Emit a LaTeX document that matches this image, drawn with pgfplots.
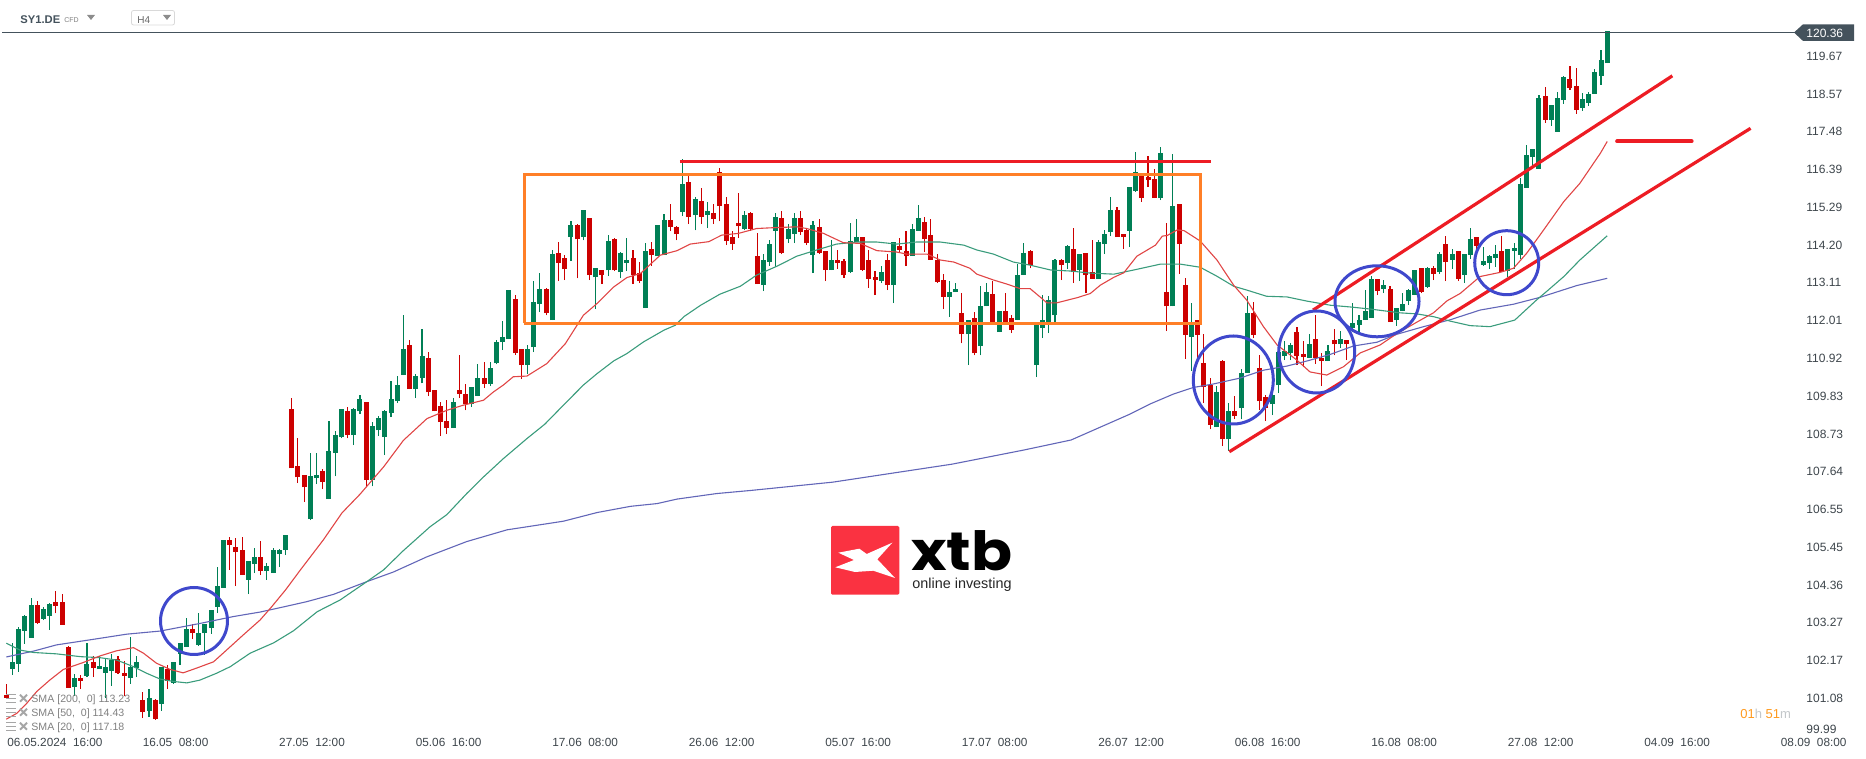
\documentclass[border=0pt]{standalone}
\usepackage{pgfplots}
\usepackage{pgfplotstable}
\pgfplotsset{compat=1.18}
\usepackage{fontspec}
\setmainfont{Liberation Sans}
\newfontfamily\logofont{Poppins}
\definecolor{upc}{HTML}{007F55}
\definecolor{dnc}{HTML}{CC0000}
\definecolor{smar}{HTML}{E04545}
\definecolor{smag}{HTML}{3A9C7C}
\definecolor{smab}{HTML}{6266B8}
\definecolor{annr}{HTML}{ED1C24}
\definecolor{anno}{HTML}{FF7F27}
\definecolor{annb}{HTML}{3F48CC}
\definecolor{txt}{HTML}{3D454B}
\definecolor{dark}{HTML}{44525C}
% candle tables: index, low, body bottom, body top, high
\pgfplotstableread{
x low bot top high
1 101.76 101.93 102.13 102.68
2 101.85 102.08 103.09 103.14
3 102.66 103.04 103.47 103.50
4 102.84 102.84 103.79 103.98
6 103.35 103.38 103.67 103.74
7 103.07 103.47 103.81 103.85
11 101.15 101.41 101.67 101.78
13 101.70 101.73 102.08 102.69
15 101.93 101.93 102.02 102.31
16 101.09 101.82 101.99 102.22
17 101.44 101.87 102.19 102.37
20 101.50 101.67 101.99 102.86
21 101.70 101.96 102.13 102.31
23 100.54 100.72 101.09 101.35
25 100.72 100.92 101.99 101.99
27 101.50 101.53 102.13 102.13
28 102.05 102.37 102.69 102.69
29 102.57 102.57 103.09 103.41
31 102.60 102.63 102.97 103.55
32 102.34 102.97 103.23 103.23
33 102.95 103.12 103.64 103.64
34 103.55 103.73 104.33 104.89
35 104.28 104.28 105.67 105.67
39 104.10 104.51 105.06 105.06
40 104.71 104.97 105.17 105.44
42 104.51 104.77 104.91 105.00
43 104.71 104.71 105.38 105.44
44 104.89 105.26 105.38 105.41
45 105.23 105.38 105.81 105.81
49 106.24 106.27 107.51 108.18
50 107.28 107.45 107.54 108.18
52 106.85 106.85 108.24 109.10
53 107.51 108.18 108.70 108.82
54 108.61 108.64 109.45 109.45
56 108.41 108.70 109.45 109.48
57 109.31 109.39 109.74 109.86
59 107.22 107.40 108.96 109.08
60 108.67 108.84 109.19 109.25
61 108.12 108.64 109.39 109.42
62 109.22 109.34 109.74 110.26
63 109.63 109.68 110.15 110.41
64 110.44 110.44 111.19 112.17
66 109.77 110.03 110.41 110.47
67 110.20 110.35 110.99 111.77
72 108.90 108.90 109.65 109.77
75 109.51 109.60 110.09 110.09
76 109.83 109.83 110.35 110.75
78 110.12 110.18 110.64 110.81
79 110.75 110.78 111.39 111.45
80 111.16 111.39 111.54 112.00
81 111.48 111.48 112.90 112.90
84 110.47 110.73 111.19 111.30
85 111.10 111.25 112.55 113.16
86 112.26 112.49 112.93 113.39
88 112.03 112.03 113.94 114.06
91 113.74 114.43 114.78 114.89
93 114.34 114.43 115.21 115.21
95 112.35 113.27 113.53 113.53
97 113.30 113.47 114.32 114.49
99 113.24 113.42 113.97 114.00
100 113.45 113.68 113.77 114.40
103 112.38 112.38 114.03 114.26
105 113.88 113.88 114.78 114.78
106 113.91 113.91 114.92 115.10
109 115.04 115.16 115.97 116.69
111 114.63 115.07 115.53 115.59
113 114.69 115.07 115.18 115.44
119 114.63 114.66 115.07 115.18
122 112.87 113.04 113.77 113.94
123 113.59 113.71 114.23 114.35
124 113.56 114.61 115.01 115.13
126 114.26 114.37 114.66 114.81
127 114.26 114.52 114.98 115.13
130 113.39 113.91 114.78 114.90
133 113.48 113.48 113.77 114.35
136 113.39 113.42 114.32 114.84
137 114.29 114.29 114.43 114.95
141 113.10 113.16 113.42 113.59
143 112.52 113.04 114.29 114.29
146 113.88 113.88 114.66 114.81
147 114.61 114.61 114.98 115.36
152 112.12 112.70 112.84 113.16
153 112.84 112.84 112.93 113.10
155 110.73 111.62 112.03 112.03
157 111.01 111.28 112.43 113.01
158 112.43 112.43 112.84 113.10
160 111.68 111.68 112.29 112.29
163 112.03 112.03 113.33 113.65
164 113.33 113.33 113.97 114.26
166 110.38 110.73 111.89 111.93
167 111.51 111.80 112.03 112.75
168 111.65 111.97 112.61 112.72
169 111.97 112.17 113.77 113.79
171 113.51 113.68 114.17 114.20
173 113.16 113.48 113.94 113.94
176 113.22 113.22 114.29 114.35
177 113.94 114.23 114.52 114.63
178 114.46 114.58 115.21 115.59
181 114.14 114.61 115.88 115.88
182 115.74 115.76 116.31 116.89
186 115.50 115.56 116.86 117.04
188 112.43 112.43 115.33 116.84
191 110.55 111.54 111.93 112.52
195 108.93 108.93 109.94 110.12
197 108.24 108.58 109.40 109.63
199 109.16 109.48 110.50 110.61
200 110.50 110.50 112.23 112.72
204 109.28 109.60 109.86 110.00
205 109.92 110.15 111.10 111.10
206 110.87 110.99 111.13 111.42
207 110.87 111.07 111.30 111.36
210 110.93 110.93 111.33 111.62
213 110.84 110.84 111.13 111.31
215 111.22 111.33 111.48 111.71
217 111.68 111.80 111.94 112.52
218 111.68 111.89 112.03 112.17
219 112.03 112.03 112.29 112.90
220 112.09 112.09 113.22 113.30
222 112.81 112.93 113.04 113.19
224 111.86 112.03 112.38 112.38
225 112.29 112.29 112.49 112.81
226 112.46 112.58 112.90 112.93
227 112.75 112.75 113.48 113.48
229 112.96 112.99 113.54 113.57
231 113.36 113.42 113.94 113.99
233 113.51 113.77 113.94 114.09
235 113.11 113.34 113.95 113.95
236 113.80 113.92 114.38 114.70
238 113.60 113.63 113.74 114.15
239 113.51 113.69 113.89 113.92
240 113.57 113.83 113.95 114.21
242 113.28 113.45 114.09 114.09
243 113.51 114.03 114.12 114.26
244 113.80 113.92 115.97 116.14
245 115.86 115.86 116.81 117.10
246 116.49 116.75 116.98 116.98
247 116.41 116.41 118.46 118.55
249 117.65 117.82 118.26 118.26
250 117.48 117.48 118.46 118.64
251 118.29 118.40 119.07 119.10
254 118.09 118.17 118.43 118.61
255 118.23 118.32 118.58 118.64
256 118.58 118.58 119.21 119.30
257 118.84 119.10 119.56 119.85
258 119.47 119.47 120.40 120.40
}\upcandles
\pgfplotstableread{
x low bot top high
0 101.10 101.10 101.18 101.50
5 103.24 103.26 103.79 103.90
8 103.54 103.76 103.87 104.19
9 103.21 103.21 103.87 104.10
10 101.39 101.39 102.57 102.60
12 101.36 101.59 101.67 101.76
14 101.70 101.96 102.13 102.31
18 101.79 101.82 102.22 102.31
19 101.15 101.73 101.82 102.16
22 100.51 100.69 101.03 101.26
24 100.46 100.48 101.03 101.06
26 101.35 101.59 101.93 102.05
30 102.80 102.97 103.09 103.23
36 104.80 105.52 105.67 105.75
37 104.33 105.32 105.46 105.72
38 104.65 104.65 105.38 105.75
41 104.65 104.77 105.17 105.64
46 107.74 107.74 109.45 109.77
47 107.31 107.48 107.80 108.61
48 106.76 107.19 107.54 107.54
51 107.14 107.34 107.66 107.71
55 108.61 108.70 109.39 109.51
58 107.22 107.40 109.65 109.65
65 110.03 110.03 111.30 111.45
68 109.83 109.94 110.93 111.10
69 109.39 109.39 110.00 110.00
70 108.67 109.08 109.54 109.65
71 108.73 108.90 109.10 109.71
73 109.77 109.89 110.00 111.02
74 109.42 109.60 109.89 110.18
77 110.06 110.18 110.35 110.81
82 111.02 111.07 112.64 112.75
83 110.32 110.73 111.19 111.19
87 112.17 112.23 112.93 112.96
89 113.16 113.68 113.97 114.29
90 113.19 113.50 113.82 113.91
92 113.24 114.37 114.78 114.81
94 113.19 113.33 114.98 114.98
96 113.07 113.33 113.47 113.47
98 113.45 113.47 114.37 114.40
101 113.07 113.33 113.82 114.06
102 113.10 113.16 113.39 113.71
104 113.59 113.91 114.08 114.29
107 114.60 114.72 114.92 115.39
108 114.34 114.52 114.72 114.75
110 114.81 115.01 116.02 116.23
112 114.81 115.01 115.47 115.85
114 114.81 114.95 115.13 115.39
115 114.89 115.33 116.31 116.43
116 114.20 114.32 115.39 115.59
117 114.06 114.23 114.43 114.60
118 114.40 114.75 114.84 115.71
120 114.61 114.66 115.13 115.16
121 113.07 113.07 113.88 114.55
125 113.94 113.97 114.98 115.19
128 114.49 114.58 114.98 115.19
129 114.20 114.26 114.63 114.69
131 113.94 113.97 114.72 114.95
132 113.16 113.48 114.03 114.03
134 113.51 113.68 113.77 114.06
135 113.25 113.33 113.74 113.79
138 113.45 113.48 114.43 114.43
139 112.96 113.22 113.77 114.06
140 112.75 113.19 113.27 113.45
142 112.90 113.04 113.77 113.94
144 114.00 114.06 114.17 114.40
145 113.59 113.88 114.03 114.61
148 114.00 114.37 114.87 115.00
149 113.77 113.77 114.49 114.95
150 113.10 113.13 113.77 113.94
151 112.35 112.70 113.19 113.36
154 111.36 111.62 112.23 112.81
156 111.01 111.07 112.09 112.26
159 111.93 111.93 112.78 113.16
161 111.93 111.93 112.29 112.81
162 111.65 111.74 112.09 112.17
165 113.53 113.62 114.03 114.06
170 113.19 113.62 113.77 113.79
172 113.10 113.42 114.09 114.69
174 112.81 113.33 113.97 113.97
175 113.22 113.22 113.42 114.35
179 114.43 114.43 115.21 115.30
180 114.09 114.43 114.52 114.52
183 115.45 115.56 116.20 116.20
184 115.88 116.08 116.17 116.78
185 115.56 115.56 116.11 116.40
187 111.71 112.43 112.84 114.84
189 113.36 114.23 115.39 115.39
190 110.90 111.60 113.04 113.25
192 110.87 111.60 112.03 112.03
193 109.63 110.09 110.78 111.62
194 108.87 108.99 110.15 110.35
196 108.38 108.58 110.84 110.87
198 109.16 109.25 109.40 109.83
201 111.51 111.60 112.23 112.55
202 109.42 109.68 110.64 111.02
203 109.11 109.48 109.80 109.86
208 110.73 110.99 111.68 111.83
209 110.67 110.96 111.05 111.42
211 110.76 110.93 111.48 112.17
212 110.12 110.84 110.93 111.07
214 111.01 111.33 111.45 111.77
216 110.87 111.33 111.45 111.45
221 112.75 112.87 113.22 113.22
223 111.97 111.97 112.93 113.01
228 112.81 112.84 113.54 113.54
230 113.19 113.36 113.54 113.60
232 113.16 113.71 114.23 114.46
234 113.16 113.22 114.03 114.03
237 114.06 114.18 114.44 114.44
241 113.42 113.42 114.03 114.47
248 117.74 117.82 118.52 118.78
252 118.69 118.75 119.01 119.39
253 118.00 118.11 118.81 119.33
}\downcandles
\pgfplotstableread{
x y
0 102.28
4.4 102.45
8.1 102.63
14 102.79
19.4 102.94
24.8 103.03
31.2 103.25
36.6 103.45
40.9 103.58
44.7 103.73
48.4 103.88
52.7 104.09
58.1 104.46
62.4 104.74
67.8 105.18
74.2 105.62
80.7 105.96
89.8 106.21
95.2 106.46
100.6 106.64
104.9 106.72
108.1 106.85
114.5 107.01
120 107.10
133.2 107.34
152.4 107.86
164 108.27
171.6 108.56
181.1 109.31
184.3 109.60
188.1 109.89
191.3 110.08
194.5 110.18
198.8 110.35
202.6 110.58
206.4 110.70
210.1 110.87
213.4 111.04
217.1 111.28
220.9 111.39
224.1 111.62
228.4 111.84
232.7 112.04
237.5 112.32
242.9 112.49
247.2 112.69
253.1 113.03
258 113.24
}\smab
\pgfplotstableread{
x y
0 102.68
2.2 102.48
4.4 102.41
8.1 102.37
11.9 102.29
15.1 102.26
17.8 102.19
20.5 102.00
22.6 101.81
24.8 101.64
27 101.57
29.1 101.53
31.2 101.61
33.9 101.81
36.1 102.00
39.3 102.39
43.1 102.69
46.3 103.04
50.1 103.59
53.8 103.93
58.1 104.46
60.8 104.80
64 105.36
68.3 106.05
71 106.40
74.2 107.01
76.9 107.49
80.1 108.02
83.9 108.60
86.8 109.02
89.8 109.57
93 110.15
95.2 110.48
97.9 110.85
100 111.06
102.7 111.40
106 111.74
107.8 111.88
109.2 112.13
111.9 112.46
115 112.78
118.3 113.01
120.9 113.33
124.2 113.59
127.4 113.88
130.6 114.06
133.8 114.23
137.1 114.29
140.3 114.29
143.5 114.23
146.7 114.29
150.5 114.29
154.3 114.20
156.4 114.06
159.1 113.94
162.3 113.71
165 113.62
168.3 113.48
171.5 113.45
174.7 113.39
178.5 113.36
181.7 113.48
186 113.65
189.2 113.65
192.4 113.56
195.1 113.30
197.8 113.01
199.9 112.90
203.1 112.72
206.4 112.70
209.6 112.58
213.4 112.46
216.6 112.41
219.8 112.35
224.6 112.24
227.3 112.21
230 112.13
232.7 112.00
235.9 111.87
239.1 111.84
243.1 112.03
246.6 112.61
248.5 112.90
251 113.29
253.6 113.77
256.3 114.20
258 114.47
}\smag
\pgfplotstableread{
x y
0 100.48
1.7 100.65
3.3 100.94
4.9 101.28
7 101.61
9.2 101.92
12.4 102.12
15.1 102.31
17.8 102.46
20.5 102.55
22.1 102.39
24.2 102.10
26.4 101.92
28.5 101.82
30.7 101.96
33.4 102.14
35.5 102.48
38.2 102.92
40.9 103.35
42.8 103.74
45 104.22
47.4 104.80
51.1 105.67
54.1 106.45
57 106.99
60.8 107.78
64 108.55
67.8 109.18
71 109.42
73.7 109.57
76.9 109.71
78.5 109.95
80.1 110.15
81.7 110.39
83.9 110.41
87.1 110.77
90.1 111.35
93 112.17
95.2 112.51
97.9 112.99
100 113.26
102.2 113.38
105.4 113.91
108.1 114.04
110.2 114.23
113.2 114.30
115.3 114.49
118 114.54
120.9 114.68
123.1 114.70
127.4 114.73
129 114.68
131.7 114.54
134.9 114.27
137.6 114.25
140.3 114.04
143.5 114.00
145.1 113.94
148.4 113.94
150.5 113.77
152.7 113.71
155.3 113.53
156.4 113.36
159.1 113.19
161.3 113.07
163.4 112.94
165 112.94
166.6 112.70
167.7 112.53
169.3 112.53
172.6 112.68
174.7 112.80
176.3 113.04
178.5 113.27
180.1 113.40
182.2 113.88
185.2 114.20
186.3 114.46
187.1 114.48
188.7 114.64
189.8 114.62
192.4 114.32
195.1 113.77
197.8 113.04
199.9 112.61
202.6 111.84
204.8 111.31
208 110.87
210.1 110.53
212.8 110.44
215.5 110.68
218.2 111.08
221.4 111.31
224.1 111.64
227.9 112.03
230 112.24
232.2 112.59
234.3 112.80
237.5 113.29
240.7 113.41
242.9 113.53
245 113.96
247.2 114.50
251 115.46
253.6 115.99
256.9 116.86
258 117.20
}\smar
\begin{document}
\begin{tikzpicture}[x=1pt,y=1pt]
\path[use as bounding box] (0,0) rectangle (933pt,379.5pt);
\begin{axis}[
  at={(0pt,9.5pt)}, anchor=south west,
  scale only axis, width=933pt, height=360pt,
  xmin=-1.015, xmax=299.71, ymin=99.877, ymax=120.716,
  axis line style={draw=none}, tick style={draw=none},
  major tick length=0pt,
  xtick={7.85,27.28,49.27,71.28,93.28,115.28,137.28,159.28,181.28,203.28,225.28,247.28,269.28,291.28},
  xticklabels={{06.05.2024\ \ 16:00},{16.05\ \ 08:00},{27.05\ \ 12:00},{05.06\ \ 16:00},{17.06\ \ 08:00},{26.06\ \ 12:00},{05.07\ \ 16:00},{17.07\ \ 08:00},{26.07\ \ 12:00},{06.08\ \ 16:00},{16.08\ \ 08:00},{27.08\ \ 12:00},{04.09\ \ 16:00},{08.09\ \ 08:00}},
  ytick={119.67,118.57,117.48,116.39,115.29,114.20,113.11,112.01,110.92,109.83,108.73,107.64,106.55,105.45,104.36,103.27,102.17,101.08,100.19},
  yticklabels={119.67,118.57,117.48,116.39,115.29,114.20,113.11,112.01,110.92,109.83,108.73,107.64,106.55,105.45,104.36,103.27,102.17,101.08,99.99},
  yticklabel pos=right,
  yticklabel style={anchor=west, inner sep=0pt, xshift=-30pt, text=txt, font=\fontsize{6}{7}\selectfont},
  xticklabel style={anchor=center, inner sep=0pt, yshift=-1.2pt, text=txt, font=\fontsize{5.9}{7}\selectfont},
  clip=true,
]
\newcommand{\candles}[2]{%
  \addplot[draw=none, mark=none, forget plot, error bars/.cd, y dir=plus, y explicit, error mark=none,
    error bar style={draw=#2, line width=0.55pt}]
    table[x=x, y=low, y error expr=\thisrow{high}-\thisrow{low}] {#1};
  \addplot[draw=none, mark=none, forget plot, error bars/.cd, y dir=plus, y explicit, error mark=none,
    error bar style={draw=#2, line width=2.5pt}]
    table[x=x, y=bot, y error expr=\thisrow{top}-\thisrow{bot}] {#1};
}
\candles{\upcandles}{upc}
\candles{\downcandles}{dnc}
\addplot[smab, line width=0.55pt, no marks] table[x=x,y=y] {\smab};
\addplot[smag, line width=0.55pt, no marks] table[x=x,y=y] {\smag};
\addplot[smar, line width=0.55pt, no marks] table[x=x,y=y] {\smar};
% price line
\addplot[dark, line width=0.5pt, no marks] coordinates {(-0.69,120.36) (288.3,120.36)};
% drawn annotations
\addplot[anno, line width=1.5pt, no marks] coordinates {(83.48,111.94) (83.48,116.25) (192.49,116.25) (192.49,111.94) (83.48,111.94)};
\addplot[annr, line width=1.4pt, no marks] coordinates {(108.57,116.63) (194.15,116.63)};
\addplot[annr, line width=1.6pt, no marks] coordinates {(197.1,108.22) (281.1,117.58)};
\addplot[annr, line width=1.6pt, no marks] coordinates {(210.6,112.32) (268.5,119.10)};
\addplot[annr, line width=2pt, line cap=round, no marks] coordinates {(259.6,117.20) (271.6,117.20)};
\end{axis}
\begin{scope}[x=0.5pt,y=-0.5pt,yshift=379.5pt]
% circles
\begin{scope}[annb, line width=1.5pt]
\draw (194,621) ellipse [x radius=33.5, y radius=33.5];
\draw (1233.3,380) ellipse [x radius=40, y radius=44];
\draw (1316.7,352) ellipse [x radius=38, y radius=41];
\draw (1377,301.3) ellipse [x radius=42, y radius=35.5];
\draw (1506.7,262.7) ellipse [x radius=32, y radius=32];
\end{scope}
% price tag
\fill[dark] (1794,32.5) -- (1803,24.3) -- (1854,24.3) -- (1854,41) -- (1803,41) -- cycle;
\node[anchor=west, inner sep=0pt, text=white, font=\fontsize{6}{7}\selectfont] at (1806,33) {120.36};
% header
\node[anchor=base west, inner sep=0pt, text=dark, font=\fontsize{5.6}{7}\selectfont\bfseries] at (20,24) {SY1.DE};
\node[anchor=base west, inner sep=0pt, text=black!50, font=\fontsize{3.5}{5}\selectfont] at (64,23) {CFD};
\fill[black!45] (87,15) -- (95,15) -- (91,20) -- cycle;
\draw[black!15, line width=0.4pt, rounded corners=1pt] (131.5,10.5) rectangle (174.5,25);
\node[anchor=base west, inner sep=0pt, text=black!60, font=\fontsize{5}{6}\selectfont] at (137,24) {H4};
\fill[black!45] (163,15) -- (171,15) -- (167,20) -- cycle;
% legend of the averages
\foreach \yy/\tt in {699.7/{SMA [200,\ \ 0] 113.23},713.7/{SMA [50,\ \ 0] 114.43},727.7/{SMA [20,\ \ 0] 117.18}}{
  \draw[black!35, line width=0.6pt] (6,\yy-5) -- (16,\yy-5) (6,\yy-1) -- (16,\yy-1) (6,\yy+3) -- (16,\yy+3);
  \draw[black!35, line width=1pt] (20,\yy-5) -- (27,\yy+2) (27,\yy-5) -- (20,\yy+2);
  \node[anchor=west, inner sep=0pt, text=black!50, font=\fontsize{5.3}{6}\selectfont] at (31,\yy) {\tt};
}
% countdown
\node[anchor=west, inner sep=0pt, font=\fontsize{6.5}{8}\selectfont] at (1740,714) {\textcolor[HTML]{FF9A1F}{01}\textcolor[HTML]{C3C7CA}{h}\ \textcolor[HTML]{FF9A1F}{51}\textcolor[HTML]{C3C7CA}{m}};
% logo
\fill[fill={rgb,255:red,250;green,50;blue,65}, rounded corners=0.7pt] (831,526) rectangle (899.3,594.7);
\fill[white] (838.3,552.7) -- (859.3,548.7) -- (866.7,554) -- (892.3,542.7) -- (877.3,559.3) -- (895,578) -- (873.3,570.7) -- (855,572) -- (835.3,567.3) -- (854,560) -- cycle;
\node[anchor=base west, inner sep=0pt, text=black, font=\logofont\bfseries\fontsize{27}{27}\selectfont] at (911,571) {\scalebox{1.12}[1]{xtb}};
\node[anchor=base west, inner sep=0pt, text=black!85, font=\fontsize{7.2}{7.2}\selectfont] at (912,589) {online investing};
\end{scope}
\end{tikzpicture}
\end{document}
